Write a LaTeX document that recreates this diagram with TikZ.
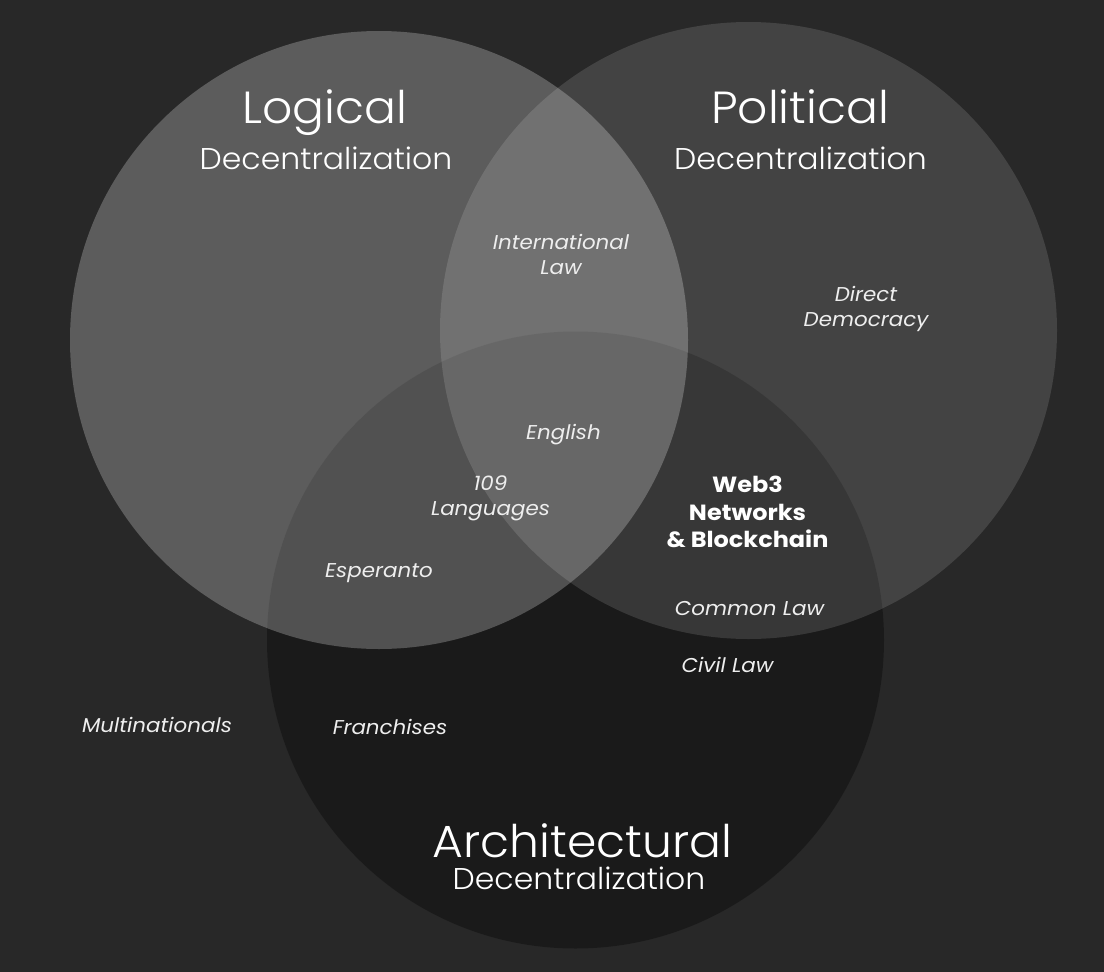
\documentclass[tikz,border=0pt]{standalone}
\usepackage{fontspec}
\setmainfont{Poppins}
\newfontfamily\titlefont{Poppins Light}[FakeStretch=1.05]
\newfontfamily\lblfont{Poppins}[FakeStretch=1.07]
\newfontfamily\boldfont{Poppins}[FakeStretch=1.09]
\definecolor{bgc}{HTML}{282828}
\definecolor{txt}{HTML}{EEEEEE}
\tikzset{
  title/.style={anchor=base, text=white, inner sep=0pt, font=\titlefont\fontsize{45}{50}\selectfont},
  subtitle/.style={anchor=base, text=white, inner sep=0pt, font=\titlefont\fontsize{30}{34}\selectfont},
  lbl/.style={text=txt, inner sep=0pt, align=center, font=\lblfont\fontsize{20}{25}\selectfont\itshape},
  boldlbl/.style={text=white, inner sep=0pt, align=center, font=\boldfont\fontsize{22}{27.5}\selectfont\bfseries}
}
\begin{document}
\begin{tikzpicture}[x=1pt,y=-1pt]
\fill[bgc] (0,0) rectangle (1104,972);
\useasboundingbox (0,0) rectangle (1104,972);
% circles
\fill[black, opacity=0.33] (575.5,640) circle (308.5pt);
\fill[white, opacity=0.242] (379,340) circle (309pt);
\fill[white, opacity=0.13] (748.5,330.5) circle (308.5pt);
% titles
\node[title] (logT) at (325,123) {Logical};
\node[subtitle] (logS) at (326,169) {Decentralization};
\node[title] (polT) at (800,123) {Political};
\node[subtitle] (polS) at (800.5,169) {Decentralization};
\node[title] (arcT) at (582.5,857) {Architectural};
\node[subtitle] (arcS) at (579,889) {Decentralization};
% labels
\node[lbl] (intl) at (561,254) {International\\Law};
\node[lbl] (dd) at (866,309) {Direct\\Democracy};
\node[lbl] (eng) at (563.5,435) {English};
\node[lbl] (lang) at (490.5,498) {109\\Languages};
\node[boldlbl] (web3) at (747.5,512) {Web3\\Networks\\\& Blockchain};
\node[lbl] (esp) at (379,573) {Esperanto};
\node[lbl] (cl) at (749.5,608.5) {Common Law};
\node[lbl] (civ) at (727.5,665) {Civil Law};
\node[lbl] (multi) at (157,725) {Multinationals};
\node[lbl] (fr) at (390,727) {Franchises};
\end{tikzpicture}
\end{document}
